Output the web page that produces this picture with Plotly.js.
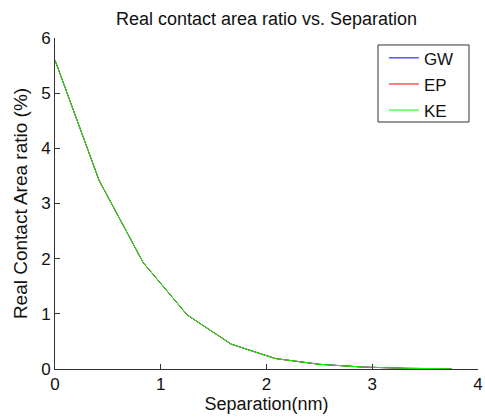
<!DOCTYPE html>
<html>
<head>
<meta charset="utf-8">
<script src="https://cdn.plot.ly/plotly-3.0.1.min.js"></script>
<style>html,body{margin:0;padding:0;background:#fff;}#chart{width:485px;height:419px;}</style>
</head>
<body>
<div id="chart"></div>
<script>
// Separation (nm)
const separation = [0, 0.4167, 0.8333, 1.25, 1.6667, 2.0833, 2.5, 2.9167, 3.3333, 3.75];
// Real contact area ratio (%) for each model (curves overlap)
const gw = [5.6, 3.42, 1.93, 0.98, 0.45, 0.19, 0.085, 0.035, 0.012, 0.004];
const ep = [5.6, 3.42, 1.93, 0.98, 0.45, 0.19, 0.085, 0.035, 0.012, 0.004];
const ke = [5.6, 3.42, 1.93, 0.98, 0.45, 0.19, 0.085, 0.035, 0.012, 0.004];
const seriesNames = ['GW', 'EP', 'KE'];
const seriesColors = ['#0000ff', '#ff0000', '#00ff00'];
const seriesValues = [gw, ep, ke];
const xTicks = [0, 1, 2, 3, 4];
const yTicks = [0, 1, 2, 3, 4, 5, 6];

const font = 'Arial, "Liberation Sans", sans-serif';
const traces = seriesValues.map((v, i) => ({
  x: separation, y: v, type: 'scatter', mode: 'lines',
  name: seriesNames[i], legendgroup: 'g' + i,
  line: {color: seriesColors[i], width: 1}
}));

const axisCommon = {
  showgrid: false, zeroline: false, showline: true, linecolor: '#333', linewidth: 1,
  ticks: 'inside', ticklen: 5, tickcolor: '#333', tickfont: {family: font, size: 17, color: '#111'},
  mirror: false
};

const layout = {
  width: 485, height: 419,
  margin: {l: 55, r: 7, t: 38, b: 50},
  paper_bgcolor: '#fff', plot_bgcolor: '#fff',
  title: {text: 'Real contact area ratio vs. Separation', font: {family: font, size: 18, color: '#111'}, xref: 'paper', x: 0.5, xanchor: 'center', yref: 'container', y: 0.956, yanchor: 'middle'},
  xaxis: Object.assign({}, axisCommon, {range: [0, 4], tickvals: xTicks, title: {text: 'Separation(nm)', font: {family: font, size: 18, color: '#111'}, standoff: 1}}),
  yaxis: Object.assign({}, axisCommon, {range: [0, 6], tickvals: yTicks, title: {text: 'Real Contact Area ratio (%)', font: {family: font, size: 19, color: '#111'}, standoff: 8}}),
  showlegend: true,
  legend: {x: 0.7775, y: 0.993, xanchor: 'left', yanchor: 'top', bgcolor: 'rgba(0,0,0,0)', borderwidth: 0,
    font: {family: font, size: 17, color: '#111'}, tracegroupgap: 1, traceorder: 'grouped'},
  shapes: [{type: 'rect', xref: 'paper', yref: 'paper', x0: 0.7636, x1: 0.9787, y0: 0.7462, y1: 0.9789,
    line: {color: '#333', width: 1}, fillcolor: '#fff', layer: 'above'}]
};

Plotly.newPlot('chart', traces, layout, {staticPlot: true, displayModeBar: false});
</script>
</body>
</html>
